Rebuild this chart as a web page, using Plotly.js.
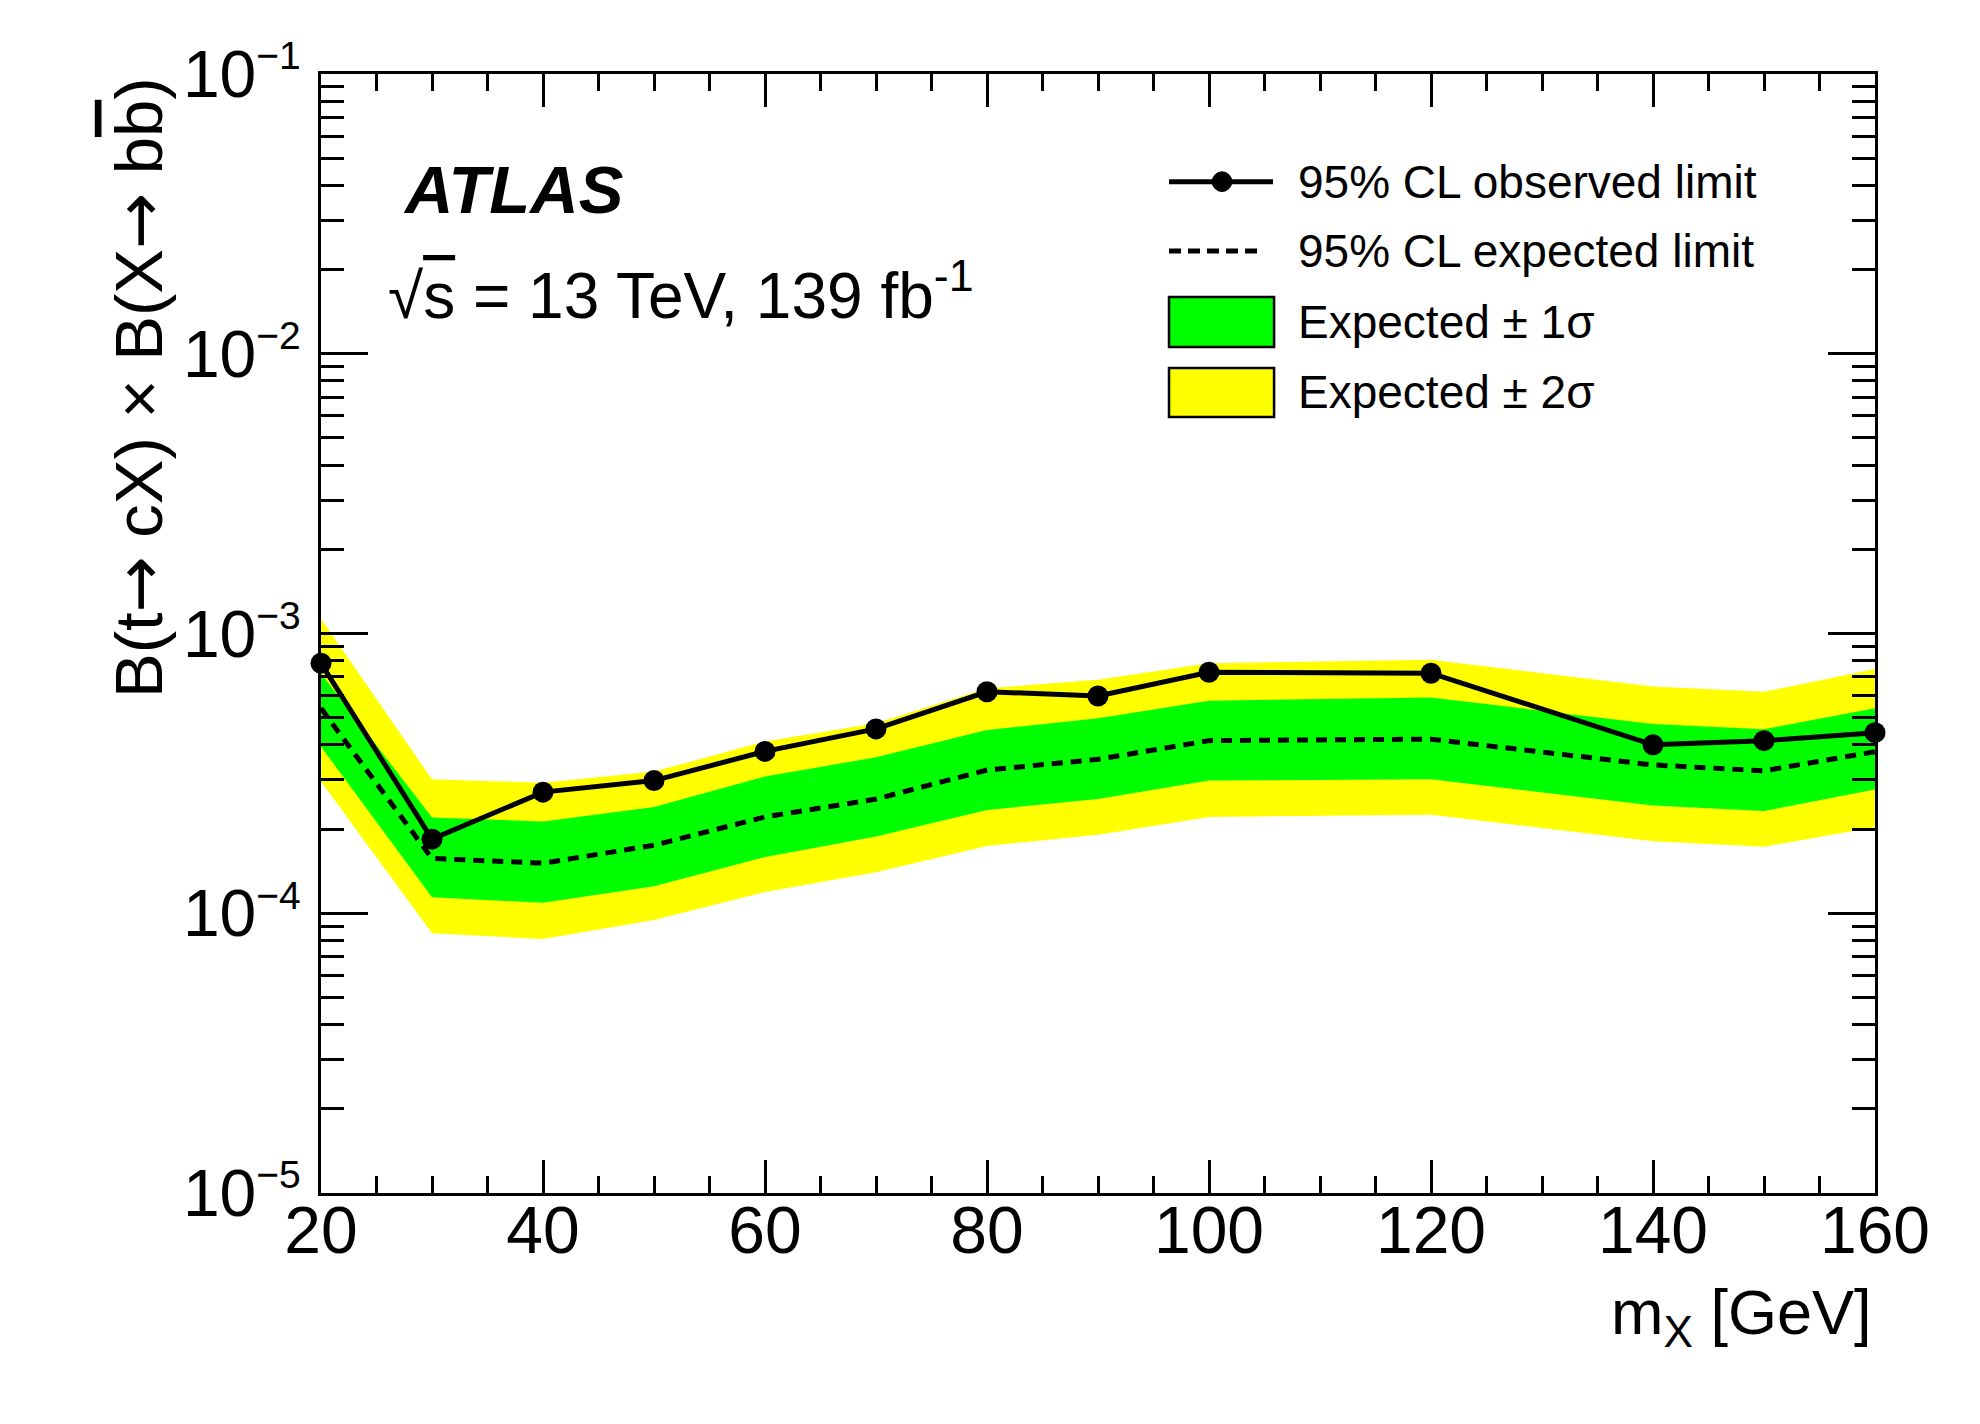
<!DOCTYPE html>
<html>
<head>
<meta charset="utf-8">
<script src="https://cdn.plot.ly/plotly-3.0.1.min.js"></script>
<style>
  html, body { margin: 0; padding: 0; background: #fff; }
  #plot { width: 1980px; height: 1424px; }
</style>
</head>
<body>
<div id="plot"></div>
<script>
// mass points and limits
const massGeV  = [20, 30, 40, 50, 60, 70, 80, 90, 100, 120, 140, 150, 160];
const observed = [7.83e-4, 1.84e-4, 2.71e-4, 2.98e-4, 3.79e-4, 4.56e-4, 6.19e-4, 5.98e-4, 7.27e-4, 7.21e-4, 4.00e-4, 4.14e-4, 4.42e-4];
const expected = [5.40e-4, 1.57e-4, 1.51e-4, 1.75e-4, 2.21e-4, 2.56e-4, 3.25e-4, 3.55e-4, 4.14e-4, 4.19e-4, 3.39e-4, 3.23e-4, 3.78e-4];
const plus1    = [7.20e-4, 2.20e-4, 2.13e-4, 2.40e-4, 3.08e-4, 3.61e-4, 4.52e-4, 4.98e-4, 5.75e-4, 5.90e-4, 4.75e-4, 4.55e-4, 5.41e-4];
const minus1   = [3.94e-4, 1.14e-4, 1.09e-4, 1.25e-4, 1.59e-4, 1.88e-4, 2.34e-4, 2.56e-4, 2.98e-4, 3.01e-4, 2.43e-4, 2.32e-4, 2.77e-4];
const plus2    = [1.13e-3, 3.01e-4, 2.93e-4, 3.21e-4, 4.11e-4, 4.78e-4, 6.37e-4, 6.83e-4, 7.83e-4, 8.05e-4, 6.46e-4, 6.19e-4, 7.46e-4];
const minus2   = [2.96e-4, 8.48e-5, 8.09e-5, 9.46e-5, 1.19e-4, 1.40e-4, 1.74e-4, 1.91e-4, 2.21e-4, 2.25e-4, 1.81e-4, 1.73e-4, 2.03e-4];

const xTicks = [20, 40, 60, 80, 100, 120, 140, 160];
const yTicks = [1e-5, 1e-4, 1e-3, 1e-2, 1e-1];
const yExponents = ['\u22125', '\u22124', '\u22123', '\u22122', '\u22121'];
const legendText = ['95% CL observed limit', '95% CL expected limit', 'Expected \u00b1 1\u03c3', 'Expected \u00b1 2\u03c3'];

const FONT = 'Liberation Sans, Arial, Helvetica, sans-serif';
const YELLOW = '#ffff00';
const GREEN = '#00ff00';
const ARROW = '<span style="font-family:DejaVu Sans">\u2192</span>';

const yTickText = yExponents.map(e => '10<sup><span style="font-size:39px">' + e + '</span></sup>');

// log minor ticks 2..9 in each decade
let yMinor = [];
for (let e = -5; e < -1; e++) {
    for (let d = 2; d <= 9; d++) {
        yMinor.push(d * Math.pow(10, e));
    }
}

function band(up, down) {
    return {
        x: massGeV.concat(massGeV.slice().reverse()),
        y: up.concat(down.slice().reverse())
    };
}

const b2 = band(plus2, minus2);
const b1 = band(plus1, minus1);

const traces = [
    {
        x: b2.x, y: b2.y,
        mode: 'lines', fill: 'toself', fillcolor: YELLOW,
        line: {width: 0, color: YELLOW},
        hoverinfo: 'skip', showlegend: false
    },
    {
        x: b1.x, y: b1.y,
        mode: 'lines', fill: 'toself', fillcolor: GREEN,
        line: {width: 0, color: GREEN},
        hoverinfo: 'skip', showlegend: false
    },
    {
        x: massGeV, y: expected,
        mode: 'lines',
        line: {color: 'black', width: 5, dash: '11px,8px'},
        showlegend: false
    },
    {
        x: massGeV, y: observed,
        mode: 'lines+markers',
        line: {color: 'black', width: 5},
        marker: {color: 'black', size: 21},
        cliponaxis: false,
        showlegend: false
    }
];

// hand-made ROOT style legend (paper coordinates)
const lx0 = 0.5457, lx1 = 0.6126, textX = 0.6274;
const rows = [0.9038, 0.8418, 0.7784, 0.7154];

const shapes = [
    {type: 'line', xref: 'paper', yref: 'paper', x0: lx0, x1: lx1, y0: rows[0], y1: rows[0],
     line: {color: 'black', width: 5}},
    {type: 'circle', xref: 'paper', yref: 'paper', x0: 0.5798 - 0.0063, x1: 0.5798 + 0.0063,
     y0: rows[0] - 0.0088, y1: rows[0] + 0.0088, fillcolor: 'black', line: {color: 'black', width: 1}},
    {type: 'line', xref: 'paper', yref: 'paper', x0: lx0, x1: 0.6065, y0: rows[1], y1: rows[1],
     line: {color: 'black', width: 5, dash: '12px,7px'}},
    {type: 'rect', xref: 'paper', yref: 'paper', x0: lx0, x1: 0.6133, y0: 0.7560, y1: 0.8007,
     fillcolor: GREEN, line: {color: 'black', width: 2.5}},
    {type: 'rect', xref: 'paper', yref: 'paper', x0: lx0, x1: 0.6133, y0: 0.6935, y1: 0.7373,
     fillcolor: YELLOW, line: {color: 'black', width: 2.5}}
];

let annotations = legendText.map((t, i) => ({
    text: t, xref: 'paper', yref: 'paper', x: textX, y: rows[i],
    xanchor: 'left', yanchor: 'middle', showarrow: false,
    font: {family: FONT, size: 46, color: 'black'}
}));

annotations.push(
    {
        text: 'ATLAS', xref: 'paper', yref: 'paper', x: 0.0515, y: 0.8968,
        xanchor: 'left', yanchor: 'middle', showarrow: false,
        font: {family: FONT, size: 67, color: 'black', weight: 'bold', style: 'italic'}
    },
    {
        text: '\u221a<span style="text-decoration:overline">s</span> = 13 TeV, 139 fb<sup>-1</sup>',
        xref: 'paper', yref: 'paper', x: 0.0418, y: 0.8065,
        xanchor: 'left', yanchor: 'middle', showarrow: false,
        font: {family: FONT, size: 64, color: 'black'}
    },
    {
        text: 'B(t' + ARROW + ' cX) \u00d7 B(X' + ARROW + ' b<span style="text-decoration:overline">b</span>)',
        xref: 'paper', yref: 'paper', x: -0.1175, y: 0.9990,
        xanchor: 'center', yanchor: 'top', textangle: -90, showarrow: false,
        font: {family: FONT, size: 67, color: 'black'}
    },
    {
        text: 'm<sub>X</sub> [GeV]',
        xref: 'paper', yref: 'paper', x: 0.9990, y: -0.073,
        xanchor: 'right', yanchor: 'top', showarrow: false,
        font: {family: FONT, size: 63, color: 'black'}
    }
);

const layout = {
    width: 1980,
    height: 1424,
    margin: {l: 321, r: 105, t: 74, b: 231, pad: 0},
    paper_bgcolor: 'white',
    plot_bgcolor: 'white',
    showlegend: false,
    font: {family: FONT, color: 'black'},
    xaxis: {
        range: [20, 160],
        tickmode: 'array', tickvals: xTicks,
        ticks: 'inside', ticklen: 33, tickwidth: 3, tickcolor: 'black',
        minor: {dtick: 5, tick0: 0, ticks: 'inside', ticklen: 17, tickwidth: 3, tickcolor: 'black'},
        showline: true, linewidth: 3, linecolor: 'black', mirror: 'ticks',
        showgrid: false, zeroline: false,
        ticklabelstandoff: -22,
        tickfont: {family: FONT, size: 66, color: 'black'}
    },
    yaxis: {
        type: 'log',
        range: [-5, -1],
        tickmode: 'array', tickvals: yTicks, ticktext: yTickText,
        ticks: 'inside', ticklen: 47, tickwidth: 3, tickcolor: 'black',
        minor: {tickmode: 'array', tickvals: yMinor, ticks: 'inside', ticklen: 23, tickwidth: 3, tickcolor: 'black'},
        showline: true, linewidth: 3, linecolor: 'black', mirror: 'ticks',
        showgrid: false, zeroline: false,
        ticklabelstandoff: 4,
        tickfont: {family: FONT, size: 66, color: 'black'}
    },
    shapes: shapes,
    annotations: annotations
};

Plotly.newPlot('plot', traces, layout, {staticPlot: true});
</script>
</body>
</html>
